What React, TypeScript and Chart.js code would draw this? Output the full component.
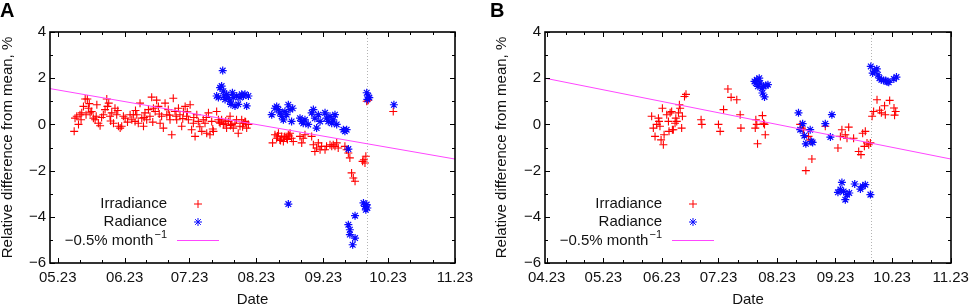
import React, { useEffect, useRef } from "react";
import { Chart, registerables } from "chart.js";

Chart.register(...registerables);

const FONT = "'Liberation Sans', Arial, Helvetica, sans-serif";

// Tick positions: day of year of the 23rd of each month
const monthTickDays = [113, 143, 174, 204, 235, 266, 296, 327];
const monthTickLabels = ["04.23", "05.23", "06.23", "07.23", "08.23", "09.23", "10.23", "11.23"];
const yTickValues = [-6, -4, -2, 0, 2, 4];
const yMinorValues = [-5, -3, -1, 1, 3];

// ---------- Panel A ----------
const irrADays = [
  150.6, 151.0, 151.8, 152.6, 153.3, 153.8, 154.1, 154.9, 155.7, 156.1, 156.7, 157.2, 157.6, 158.0, 158.7, 159.5, 160.3, 160.8, 161.1, 161.8, 162.6,
  163.3, 164.1, 164.9, 165.7, 166.0, 166.6, 167.2, 167.5, 168.0, 168.8, 169.5, 170.3, 170.8, 171.1, 171.9, 172.6, 173.4, 174.2, 175.3,
  176.5, 177.3, 178.0, 178.8, 179.0, 179.6, 180.3, 181.1, 181.9, 182.7, 183.0, 183.4, 184.2, 185.0, 185.7, 186.5, 187.0, 187.3, 188.1, 188.8, 189.6, 190.0, 190.4, 191.1, 191.9, 192.7,
  193.5, 194.2, 194.8, 195.0, 195.8, 196.5, 197.3, 197.8, 198.1, 198.9, 199.6, 200.4, 200.9, 201.2, 202.0, 202.7, 203.0, 203.5, 204.3, 205.0, 205.8, 206.0, 206.6, 207.4, 208.1, 208.8,
  209.7, 210.4, 211.2, 211.8, 212.0, 212.8, 213.5, 214.3, 214.8, 215.1, 216.6, 217.4, 217.8, 218.2, 218.9, 219.7, 220.5, 220.8, 221.2, 222.0, 222.8, 223.0, 223.6, 224.3, 225.1, 225.8, 226.6, 227.4, 228.2, 228.6, 229.0, 229.7, 230.0, 230.5, 231.3,
  242.5, 243.6, 244.4, 244.8, 245.2, 245.9, 246.2, 246.7, 247.5, 247.9, 248.2, 249.0, 249.4, 249.8, 250.2, 250.6, 251.3, 252.1,
  255.2, 256.0, 256.7, 257.5, 260.6, 261.4, 262.1, 262.9, 263.7, 264.5, 265.2, 266.8, 267.5, 269.1, 269.9, 270.6, 271.4, 272.2, 272.9,
  276.0, 276.8, 277.6, 278.3, 279.1, 279.9, 280.7,
  284.2, 284.8, 285.3, 285.7, 286.1, 286.8, 298.4,
];
const irrAValues = [
  -0.3, 0.27, 0.35, 0, 0.42, 0.2, 0.5, 0.78, 1.1, 0.42, 1.1, 0.7, 0.9, 0.5, 0.56, 0.27, 0.2, 0.35, 0.85, 0.05, -0.06,
  0.3, 0.42, 0.64, 1.1, 0.78, 0.92, 0.35, 0.15, 0.5, 0.05, 0.7, 0.42, 0.6, -0.08, -0.16, -0.08, 0.35, 0.27, 0.1,
  0.42, 0.2, 0.42, 0.13, 0.6, 0.42, 0.05, 0.92, 0.27, -0.08, 0.3, 0.5, 0.2, 0.64, 0.35, 1.18, 0.1, 0.7, 0.56, 1.05, 0.78, 0.45, 0.05, 0.35, -0.16, 0.92,
  0.42, 0.64, 0.4, 0.2, -0.45, 1.13, 0.56, 0.35, 0.2, 0.7, 0.42, -0.08, 0.25, 0.56, 0.78, 0.35, 0.55, 0.2, 0.85, -0.23, 0.05, 0.3, -0.52, 0.42, 0.13, -0.1,
  -0.3, 0.2, 0.05, 0.3, -0.38, 0.5, -0.45, 0.13, -0.2, -0.3, 0.56, 0.2, 0.1, 0.05, 0.2, 0, 0.05, 0.15, -0.16, 0.13, 0.35, -0.05, 0, -0.16, 0.05, 0.2, -0.38, -0.08, 0.2, -0.1, 0.05, 0.13, 0.1, -0.16, 0,
  -0.8, -0.45, -0.6, -0.5, -0.38, -0.67, -0.7, -0.52, -0.74, -0.55, -0.52, -0.6, -0.65, -0.45, -0.5, -0.38, -0.6, -0.74,
  -0.52, -0.8, -0.6, -0.45, -0.52, -0.88, -1.17, -1.02, -0.8, -1.1, -0.95, -1.1, -0.95, -0.88, -0.95, -0.88, -0.95, -0.8, -1.02,
  -0.95, -1.1, -1.24, -1.45, -2.1, -2.32, -2.46,
  -1.6, -1.53, -1.67, -1.38, 1.0, 1.05, 0.56,
];
const radADays = [
  219.4, 216.6, 217.4, 218.2, 218.9, 219.7, 220.0, 220.5, 221.2, 222.0, 222.8, 223.2, 223.9, 224.3, 225.1, 225.9, 226.6, 227.4, 228.2, 229.0, 229.7, 230.5, 231.3,
  242.1, 243.6, 244.4, 245.2, 245.9, 246.7, 247.5, 248.2, 249.0, 249.8, 250.6, 251.3, 251.8,
  255.2, 256.0, 256.7, 257.5, 259.0, 260.6, 261.4, 262.1, 262.9, 263.7, 264.5, 266.8, 267.5, 268.3, 269.1, 269.9, 270.6, 271.4, 272.2,
  275.3, 276.0, 276.8, 277.6,
  249.8,
  277.6, 278.3, 278.3, 279.6, 280.7, 280.7,
  284.6, 285.3, 285.7, 286.1, 286.4,
  286.1, 286.8, 287.3, 286.4,
  298.7,
];
const radAValues = [
  2.33, 1.23, 1.16, 1.59, 1.66, 1.44, 1.23, 1.08, 1.3, 1.16, 1.01, 0.87, 1.37, 1.16, 0.8, 1.23, 0.87, 1.16, 1.3, 1.23, 1.3, 0.8, 1.23,
  0.42, 0.7, 0.78, 0.64, 0.5, 0.35, 0.2, 0.56, 0.42, 0.85, 0.64, 0.13, 0.7,
  0.27, 0.13, 0.05, 0.2, 0, 0.5, 0.64, 0.27, -0.16, 0.42, 0.13, 0.5, 0.27, 0.13, 0.35, 0.05, 0.2, 0.42, 0,
  -0.23, -0.3, -0.23, -1.07,
  -3.45,
  -4.34, -4.56, -4.77, -5.21, -4.92, -3.95,
  -3.4, -3.55, -3.7, -3.47, -3.62,
  1.37, 1.23, 1.16, 1.08,
  0.85,
];
const trendADays = [139.4, 327];
const trendAValues = [1.55, -1.5];
const markerADay = 286.2;

// ---------- Panel B ----------
const irrBDays = [
  168.6, 169.5, 170.4, 171.3, 172.2, 172.5, 173.0, 173.6, 174.3, 174.8, 175.2, 176.6, 177.5, 177.8, 178.4, 179.2, 179.6, 180.1, 181.0, 181.4, 181.9, 182.8, 183.3, 183.7, 184.5, 184.9, 186.0, 186.8,
  194.8, 195.2, 204.0, 204.9, 206.7, 209.0, 210.7, 213.7, 215.5, 215.9,
  223.5, 223.8, 224.3, 224.7, 227.3, 227.9, 228.4, 228.8,
  247.3, 248.2, 249.1, 250.3, 251.7, 252.6, 253.5, 260.6,
  267.3, 268.6, 269.4, 271.2, 272.1, 273.0, 275.6, 278.3, 279.5, 280.4, 281.3, 281.8, 282.7, 283.6, 284.5,
  285.4, 286.2, 288.0, 289.4, 290.3, 292.0, 292.4, 294.7, 297.0, 297.3, 297.9,
];
const irrBValues = [
  0.35, -0.16, -0.52, 0, 0.27, 0.13, -0.08, -0.67, 0.7, -0.88, -0.45, 0.42, 0.13, -0.3, 0.5, 0.56, -0.23, -0.23, 0.05, 0.27, 0.13, 0.5, 0.85, 0.7, -0.16, 0.35, 1.21, 1.3,
  0.2, 0, 0, -0.3, 0.64, 1.53, 1.17, 1.07, 0.42, -0.16,
  -0.16, 0.2, 0, -0.84, 0.38, 0.05, 0, -0.45,
  0, -0.16, -0.23, -2.0, -0.52, -0.67, -1.5, -0.08,
  -1.02, -0.52, -0.23, -0.45, -0.6, -0.12, -0.6, -1.17, -1.31, -0.38, -0.95, -0.3, -0.8, -0.88, -0.8,
  0.35, 0.56, 1.07, 0.61, 0.5, 0.81, 0.42, 1.04, 0.71, 0.4, 0.56,
];
const radBDays = [
  223.1, 223.8, 224.3, 224.9, 225.6, 226.1, 227.0, 227.3, 227.9, 228.4, 229.1, 230.2,
  246.4, 247.3, 248.6, 249.5, 250.3, 252.6, 253.2, 253.9, 260.6, 263.3, 264.1,
  267.3, 268.6, 269.4, 270.3, 271.2, 272.1, 273.3, 276.2, 279.2, 280.4, 281.8, 284.5,
  284.7, 285.7, 286.6, 287.9, 288.5, 289.3, 290.3, 291.5, 292.6, 293.4, 294.2, 296.9, 298.3,
];
const radBValues = [
  1.86, 1.79, 1.93, 1.65, 2.0, 1.79, 1.57, 1.36, 1.65, 1.19, 1.68, 1.72,
  0.5, -0.23, 0.03, -0.49, -0.84, -0.23, -0.74, -0.78, 0.03, -0.55, 0.42,
  -2.94, -2.82, -2.51, -2.9, -3.26, -3.04, -2.97, -2.58, -2.8, -2.68, -2.61, -3.04,
  2.51, 2.22, 2.3, 2.4, 2.15, 2.0, 1.93, 1.9, 1.9, 1.85, 1.82, 1.97, 2.05,
];
const trendBDays = [112.1, 327.2];
const trendBValues = [2.0, -1.5];
const markerBDay = 284.7;

const toPoints = (xs: number[], ys: number[]) => xs.map((x, i) => ({ x, y: ys[i] }));

const RED = "rgb(255,0,0)";
const BLUE = "rgb(10,10,255)";
const MAGENTA = "rgb(255,70,255)";

function drawPlus(ctx: CanvasRenderingContext2D, x: number, y: number, r: number) {
  ctx.beginPath();
  ctx.moveTo(x - r, y);
  ctx.lineTo(x + r, y);
  ctx.moveTo(x, y - r);
  ctx.lineTo(x, y + r);
  ctx.stroke();
}
function drawStar(ctx: CanvasRenderingContext2D, x: number, y: number, r: number) {
  drawPlus(ctx, x, y, r);
  const d = r * Math.SQRT1_2;
  ctx.beginPath();
  ctx.moveTo(x - d, y - d);
  ctx.lineTo(x + d, y + d);
  ctx.moveTo(x - d, y + d);
  ctx.lineTo(x + d, y - d);
  ctx.stroke();
}

const gnuFrame = {
  id: "gnuFrame",
  beforeDatasetsDraw(chart: any, _args: any, opts: any) {
    const { ctx, chartArea: a, scales } = chart;
    const px = Math.round(scales.x.getPixelForValue(opts.marker)) + 0.5;
    ctx.save();
    ctx.strokeStyle = "#b4b4b4";
    ctx.lineWidth = 1;
    ctx.setLineDash([1, 2]);
    ctx.beginPath();
    ctx.moveTo(px, a.top);
    ctx.lineTo(px, a.bottom);
    ctx.stroke();
    ctx.restore();
  },
  afterDraw(chart: any) {
    const { ctx, chartArea: a, scales } = chart;
    const xs = scales.x;
    const ys = scales.y;
    ctx.save();
    ctx.strokeStyle = "#000";
    ctx.lineWidth = 1;
    const inX = (v: number) => v >= xs.min - 0.01 && v <= xs.max + 0.01;
    const vTick = (v: number, len: number) => {
      const p = Math.round(xs.getPixelForValue(v)) + 0.5;
      ctx.beginPath();
      ctx.moveTo(p, a.bottom);
      ctx.lineTo(p, a.bottom - len);
      ctx.moveTo(p, a.top);
      ctx.lineTo(p, a.top + len);
      ctx.stroke();
    };
    const hTick = (v: number, len: number) => {
      const p = Math.round(ys.getPixelForValue(v)) + 0.5;
      ctx.beginPath();
      ctx.moveTo(a.left, p);
      ctx.lineTo(a.left + len, p);
      ctx.moveTo(a.right, p);
      ctx.lineTo(a.right - len, p);
      ctx.stroke();
    };
    monthTickDays.forEach((d, i) => {
      if (inX(d)) vTick(d, 5);
      if (i < monthTickDays.length - 1) {
        const n = monthTickDays[i + 1];
        [d + (n - d) / 3, d + (2 * (n - d)) / 3].forEach((m) => {
          if (inX(m)) vTick(m, 3);
        });
      }
    });
    yTickValues.forEach((v) => hTick(v, 5));
    yMinorValues.forEach((v) => hTick(v, 3));

    // border
    ctx.lineWidth = 1.6;
    ctx.strokeRect(a.left, a.top, a.right - a.left, a.bottom - a.top);

    // legend (gnuplot style, inside the plot)
    const L = a.left;
    const tx = L + 117;
    const sx = L + 148;
    const rows = [a.top + 172, a.top + 190, a.top + 208];
    ctx.fillStyle = "#111";
    ctx.textBaseline = "middle";
    ctx.textAlign = "right";
    ctx.font = `15px ${FONT}`;
    ctx.fillText("Irradiance", tx, rows[0]);
    ctx.fillText("Radiance", tx, rows[1]);
    ctx.lineWidth = 1;
    ctx.strokeStyle = RED;
    drawPlus(ctx, sx, rows[0], 4);
    ctx.strokeStyle = BLUE;
    drawStar(ctx, sx, rows[1], 4);
    ctx.font = `11px ${FONT}`;
    const supW = ctx.measureText("\u22121").width;
    ctx.textAlign = "left";
    ctx.fillText("\u22121", tx - supW, rows[2] - 5);
    ctx.font = `15px ${FONT}`;
    ctx.textAlign = "right";
    ctx.fillText("\u22120.5% month", tx - supW - 1, rows[2] + 1);
    ctx.strokeStyle = MAGENTA;
    ctx.beginPath();
    ctx.moveTo(L + 127, rows[2] + 0.5);
    ctx.lineTo(L + 169, rows[2] + 0.5);
    ctx.stroke();
    ctx.restore();
  },
};

type PanelProps = {
  left: number;
  width: number;
  yAxisWidth: number;
  rightPad: number;
  xMin: number;
  xMax: number;
  irrDays: number[];
  irrValues: number[];
  radDays: number[];
  radValues: number[];
  trendDays: number[];
  trendValues: number[];
  marker: number;
};

function Panel(p: PanelProps) {
  const ref = useRef<HTMLCanvasElement | null>(null);
  useEffect(() => {
    if (!ref.current) return;
    const chart = new Chart(ref.current, {
      type: "scatter",
      data: {
        datasets: [
          {
            label: "\u22120.5% month\u207B\u00B9",
            data: toPoints(p.trendDays, p.trendValues),
            showLine: true,
            borderColor: MAGENTA,
            borderWidth: 1,
            pointRadius: 0,
          },
          {
            label: "Radiance",
            data: toPoints(p.radDays, p.radValues),
            pointStyle: "star",
            pointRadius: 4,
            borderColor: BLUE,
            backgroundColor: BLUE,
            borderWidth: 1.2,
          },
          {
            label: "Irradiance",
            data: toPoints(p.irrDays, p.irrValues),
            pointStyle: "cross",
            pointRadius: 4,
            borderColor: RED,
            backgroundColor: RED,
            borderWidth: 1.1,
          },
        ],
      },
      options: {
        animation: false,
        responsive: false,
        maintainAspectRatio: false,
        devicePixelRatio: 1,
        layout: { padding: { top: 32, right: p.rightPad, left: 0, bottom: 0 } },
        plugins: {
          legend: { display: false },
          tooltip: { enabled: false },
          // @ts-ignore
          gnuFrame: { marker: p.marker },
        },
        scales: {
          x: {
            type: "linear",
            min: p.xMin,
            max: p.xMax,
            grid: { display: false, drawTicks: false },
            border: { display: false },
            afterBuildTicks: (scale: any) => {
              scale.ticks = monthTickDays
                .filter((d) => d >= p.xMin && d <= p.xMax)
                .map((v) => ({ value: v }));
            },
            afterFit: (scale: any) => {
              scale.height = 44;
              scale.paddingLeft = 0;
              scale.paddingRight = 0;
            },
            ticks: {
              autoSkip: false,
              maxRotation: 0,
              padding: 6,
              color: "#111",
              font: { family: FONT, size: 15 },
              callback: (v: any) => monthTickLabels[monthTickDays.indexOf(Number(v))] ?? "",
            },
            title: {
              display: true,
              text: "Date",
              color: "#111",
              font: { family: FONT, size: 15, lineHeight: 1 },
              padding: { top: 0, bottom: 0 },
            },
          },
          y: {
            type: "linear",
            min: -6,
            max: 4,
            grid: { display: false, drawTicks: false },
            border: { display: false },
            afterBuildTicks: (scale: any) => {
              scale.ticks = yTickValues.map((v) => ({ value: v }));
            },
            afterFit: (scale: any) => {
              scale.width = p.yAxisWidth;
              scale.paddingTop = 0;
              scale.paddingBottom = 0;
            },
            ticks: {
              padding: 4,
              color: "#111",
              font: { family: FONT, size: 15 },
              callback: (v: any) => {
                const n = Number(v);
                return n < 0 ? "\u2212" + Math.abs(n) : String(n);
              },
            },
            title: {
              display: true,
              text: "Relative difference from mean, %",
              color: "#111",
              font: { family: FONT, size: 15, lineHeight: 1 },
              padding: { top: 0, bottom: 0 },
            },
          },
        },
      },
      plugins: [gnuFrame as any],
    });
    return () => chart.destroy();
  }, []);
  return (
    <canvas
      ref={ref}
      width={p.width}
      height={307}
      style={{ position: "absolute", left: p.left, top: 0, width: p.width, height: 307 }}
    />
  );
}

const letterStyle: React.CSSProperties = {
  position: "absolute",
  top: 0,
  font: `bold 20px ${FONT}`,
  lineHeight: "20px",
  color: "#000",
};

export default function App() {
  return (
    <div
      style={{
        position: "absolute",
        left: 0,
        top: 0,
        width: 969,
        height: 307,
        overflow: "hidden",
        background: "#fff",
      }}
    >
      <Panel
        left={0}
        width={480}
        yAxisWidth={50}
        rightPad={25}
        xMin={139.4}
        xMax={327}
        irrDays={irrADays}
        irrValues={irrAValues}
        radDays={radADays}
        radValues={radAValues}
        trendDays={trendADays}
        trendValues={trendAValues}
        marker={markerADay}
      />
      <Panel
        left={494}
        width={476}
        yAxisWidth={51}
        rightPad={19}
        xMin={112.1}
        xMax={327.2}
        irrDays={irrBDays}
        irrValues={irrBValues}
        radDays={radBDays}
        radValues={radBValues}
        trendDays={trendBDays}
        trendValues={trendBValues}
        marker={markerBDay}
      />
      <div style={{ ...letterStyle, left: 0 }}>A</div>
      <div style={{ ...letterStyle, left: 490 }}>B</div>
    </div>
  );
}
